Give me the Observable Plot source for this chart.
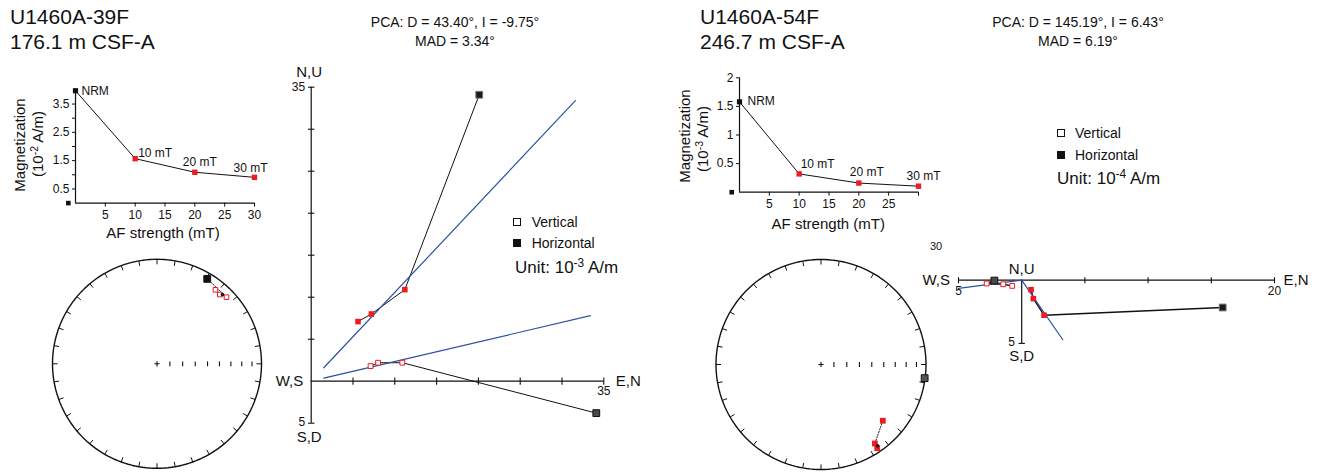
<!DOCTYPE html>
<html><head><meta charset="utf-8">
<script src="https://cdn.jsdelivr.net/npm/d3@7"></script>
<script src="https://cdn.jsdelivr.net/npm/@observablehq/plot@0.6"></script>
<style>
body{margin:0;background:#fff;}
#root{position:relative;width:1317px;height:472px;overflow:hidden;background:#fff;font-family:"Liberation Sans",Arial,Helvetica,sans-serif;color:#111;}
#root svg{position:absolute;left:0;top:0;background:transparent !important;}
.t{position:absolute;white-space:nowrap;line-height:1;}
.sup{font-size:0.7em;position:relative;top:-0.5em;}
.sq{display:inline-block;box-sizing:border-box;width:8px;height:8px;border:1px solid #111;position:absolute;}
</style></head><body><div id="root"></div>
<script>
// ---------------- data ----------------
const steps = ["NRM", "10 mT", "20 mT", "30 mT"];
const afField = [0, 10, 20, 30];
const afTicks = [5, 10, 15, 20, 25, 30];
const stereoIncTicks = [10, 20, 30, 40, 50, 60, 70, 80];

// sample 1
const s1Name = "U1460A-39F", s1Depth = "176.1 m CSF-A";
const s1Pca = {dec: 43.40, inc: -9.75, mad: 3.34};
const s1Int = [3.97, 1.57, 1.09, 0.91];          // 10^-2 A/m
const s1IntTicks = [0.5, 1, 1.5, 2, 2.5, 3, 3.5];
const s1Dec = [30.6, 46.2, 42.2, 38.3];
const s1Inc = [6.2, -8.7, -11.5, -10.7];
const s1E = [20.1, 11.2, 7.2, 5.6];              // 10^-3 A/m
const s1N = [34.1, 10.9, 8.0, 7.1];
const s1U = [-3.8, 2.2, 2.2, 1.8];
const s1FitH = [[1.5, 1.6], [31.6, 33.4]];
const s1FitV = [[1.5, 0.36], [33.4, 7.8]];
const s1ZTicksX = [5, 10, 15, 20, 25, 30, 35];
const s1ZTicksY = [-5, 5, 10, 15, 20, 25, 30, 35];

// sample 2
const s2Name = "U1460A-54F", s2Depth = "246.7 m CSF-A";
const s2Pca = {dec: 145.19, inc: 6.43, mad: 6.19};
const s2Int = [1.58, 0.32, 0.16, 0.105];         // 10^-3 A/m
const s2IntTicks = [0.5, 1, 1.5, 2];
const s2Dec = [97.5, 146.1, 145.7, 132.3];
const s2Inc = [0.5, 4.5, 9.8, 21.5];
const s2E = [15.9, 1.77, 0.92, 0.74];            // 10^-4 A/m
const s2N = [-2.16, -2.77, -1.46, -0.75];
const s2U = [-0.03, -0.26, -0.32, -0.45];
const s2FitH = [[0, 0], [3.25, -4.71]];
const s2FitV = [[-5, -0.65], [0, 0]];
const s2ZTicksX = [-5, 5, 10, 15, 20];
const s2ZTicksY = [-5];

// ---------------- helpers ----------------
const W = 1317, H = 472;
const RED = "#ec1c24", BLUE = "#2b51a3", INK = "#111";
const rad = Math.PI / 180;
const STYLE = 'background: transparent; font-family: "Liberation Sans", Arial, Helvetica, sans-serif; font-size: 12px; color: #111; overflow: visible;';
const root = document.getElementById("root");

const rOf = size => Math.sqrt(size / Math.PI);
const sq = {draw(c, s) { const r = rOf(s); c.rect(-r, -r, 2 * r, 2 * r); }};
const vtick = {draw(c, s) { const r = rOf(s); c.moveTo(0, -r); c.lineTo(0, r); }};
const htick = {draw(c, s) { const r = rOf(s); c.moveTo(-r, 0); c.lineTo(r, 0); }};
const plus = {draw(c, s) { const r = rOf(s); c.moveTo(-r, 0); c.lineTo(r, 0); c.moveTo(0, -r); c.lineTo(0, r); }};

const eqArea = inc => Math.SQRT2 * Math.sin((90 - Math.abs(inc)) / 2 * rad);
const proj = (dec, inc) => { const r = eqArea(inc); return [r * Math.sin(dec * rad), r * Math.cos(dec * rad)]; };

function layer(px, py, xdom, ydom, marks, implicitAxes = false) {
  // px = [left pixel, right pixel], py = [bottom pixel, top pixel]
  const ax = implicitAxes ? {} : {axis: null};
  const svg = Plot.plot({
    width: W, height: H,
    marginLeft: px[0], marginRight: W - px[1], marginTop: py[1], marginBottom: H - py[0],
    x: {domain: xdom, ...ax}, y: {domain: ydom, ...ax},
    style: STYLE,
    marks
  });
  root.appendChild(svg);
}

function txt(html, x, y, size, anchor = "start", rotate = 0) {
  const el = document.createElement("div");
  el.className = "t";
  el.innerHTML = html;
  el.style.left = x + "px"; el.style.top = y + "px"; el.style.fontSize = size + "px";
  const tx = anchor === "middle" ? "-50%" : anchor === "end" ? "-100%" : "0";
  el.style.transform = `translate(${tx},-50%)` + (rotate ? ` rotate(${rotate}deg)` : "");
  root.appendChild(el);
}
function legendSquare(x, y, filled) {
  const el = document.createElement("div");
  el.className = "sq";
  el.style.left = (x - 4) + "px"; el.style.top = (y - 4) + "px";
  el.style.background = filled ? "#111" : "#fff";
  root.appendChild(el);
}

// ---------------- intensity decay plots ----------------
function intensity(p) {
  const d = afField.map((x, i) => ({x, y: p.int[i], label: steps[i], i}));
  const labelMarks = d.map((row, i) => Plot.text([row], {
    x: "x", y: "y", text: "label", dx: p.lab[i][0], dy: p.lab[i][1], textAnchor: p.lab[i][2], fontSize: 12, fill: INK
  }));
  layer(p.px, p.py, [0, 30], [0, p.ymax], [
    Plot.ruleX([0], {y1: 0, y2: p.ymax, stroke: INK, strokeWidth: 1.2}),
    Plot.ruleY([0], {x1: 0, x2: 30, stroke: INK, strokeWidth: 1.2}),
    Plot.axisX({ticks: afTicks, tickSize: 4, tickPadding: 3, label: null, fontSize: 12, tickFormat: p.xfmt}),
    Plot.axisY({ticks: p.yticks, tickSize: 3, tickPadding: 3, label: null, fontSize: 12, tickFormat: p.yfmt}),
    Plot.line(d, {x: "x", y: "y", stroke: INK, strokeWidth: 1}),
    Plot.dot(d.filter(r => r.i === 0), {x: "x", y: "y", symbol: sq, r: 2.6, fill: INK}),
    Plot.dot(d.filter(r => r.i > 0), {x: "x", y: "y", symbol: sq, r: 2.7, fill: RED}),
    Plot.dot([p.corner], {x: d => d[0], y: d => d[1], symbol: sq, r: 2.3, fill: INK}),
    ...labelMarks
  ], true);
}

// ---------------- equal-area stereonets ----------------
function stereo(p) {
  const pts = p.dec.map((dec, i) => { const [x, y] = proj(dec, p.inc[i]); return {x, y, i, down: p.inc[i] >= 0}; });
  const circle = d3.range(0, 361, 2).map(a => ({x: Math.sin(a * rad), y: Math.cos(a * rad)}));
  const ring = d3.range(0, 360, 10);
  const [pcx, pcy] = proj(p.pca.dec, p.pca.inc);
  layer(p.px, p.py, [-1, 1], [-1, 1], [
    Plot.line(circle, {x: "x", y: "y", stroke: INK, strokeWidth: 1.4}),
    Plot.link(ring, {x1: a => Math.sin(a * rad), y1: a => Math.cos(a * rad),
      x2: a => 0.952 * Math.sin(a * rad), y2: a => 0.952 * Math.cos(a * rad), stroke: INK, strokeWidth: 1}),
    Plot.dot(stereoIncTicks, {x: i => eqArea(i), y: 0, symbol: vtick, r: 2.4, stroke: INK, strokeWidth: 1.1}),
    Plot.dot([0], {x: 0, y: 0, symbol: plus, r: 2.6, stroke: INK, strokeWidth: 1.1}),
    Plot.line(pts.filter(d => d.i >= p.connectFrom), {x: "x", y: "y", stroke: INK, strokeWidth: 1, strokeDasharray: "1.2,1.6"}),
    Plot.dot(pts.filter(d => d.i === 0), {x: "x", y: "y", symbol: sq, r: 3.4, fill: p.nrmFill, stroke: INK, strokeWidth: 1}),
    Plot.dot(pts.filter(d => d.i > 0 && d.down), {x: "x", y: "y", symbol: sq, r: 2.9, fill: RED}),
    Plot.dot(pts.filter(d => d.i > 0 && !d.down), {x: "x", y: "y", symbol: sq, r: 2.3, fill: "white", stroke: RED, strokeWidth: 1}),
    Plot.dot([[pcx, pcy]], {x: d => d[0], y: d => d[1], r: 1.8, fill: INK})
  ]);
}

// ---------------- Zijderveld diagrams ----------------
function zij(p) {
  const hor = p.E.map((e, i) => ({x: e, y: p.N[i], i}));
  const ver = p.N.map((n, i) => ({x: n, y: p.U[i], i}));
  const T = (s, x, y, o) => Plot.text([s], {x, y, text: d => d, fill: INK, ...o});
  layer(p.px, p.py, p.xdom, p.ydom, [
    Plot.ruleY([0], {x1: p.xdom[0], x2: p.xdom[1], stroke: INK, strokeWidth: 1.2}),
    Plot.ruleX([0], {y1: p.ydom[0], y2: p.ydom[1], stroke: INK, strokeWidth: 1.2}),
    Plot.dot(p.ticksX, {x: d => d, y: 0, symbol: vtick, r: p.tick, stroke: INK, strokeWidth: 1.1}),
    Plot.dot(p.ticksY, {x: 0, y: d => d, symbol: htick, r: 3.2, stroke: INK, strokeWidth: 1.1}),
    Plot.line(hor, {x: "x", y: "y", stroke: INK, strokeWidth: p.lw}),
    Plot.line(ver, {x: "x", y: "y", stroke: INK, strokeWidth: p.lw}),
    Plot.line(p.fitH, {x: d => d[0], y: d => d[1], stroke: BLUE, strokeWidth: 1.2}),
    Plot.line(p.fitV, {x: d => d[0], y: d => d[1], stroke: BLUE, strokeWidth: 1.2}),
    Plot.dot(hor.filter(d => d.i === 0), {x: "x", y: "y", symbol: sq, r: 3.4, fill: "#1a1a1a", stroke: "#777", strokeWidth: 1}),
    Plot.dot(ver.filter(d => d.i === 0), {x: "x", y: "y", symbol: sq, r: 3.4, fill: "#4a4a4a", stroke: "#111", strokeWidth: 1}),
    Plot.dot(hor.filter(d => d.i > 0), {x: "x", y: "y", symbol: sq, r: 2.8, fill: RED}),
    Plot.dot(ver.filter(d => d.i > 0), {x: "x", y: "y", symbol: sq, r: 2.4, fill: "white", stroke: RED, strokeWidth: 1}),
    ...p.labels.map(([s, x, y, o]) => T(s, x, y, o))
  ]);
}

// ---------------- panel 1 ----------------
intensity({
  int: s1Int, ymax: 4, yticks: s1IntTicks, px: [75, 254], py: [202.6, 89.4],
  yfmt: d => (Math.round(d * 2) % 2 === 1 ? d : ""), xfmt: d => d,
  corner: [-1.2, 0],
  lab: [[6, 0, "start"], [3, -5.5, "start"], [5, -10, "middle"], [-4, -9.5, "middle"]]
});
stereo({dec: s1Dec, inc: s1Inc, pca: s1Pca, px: [52, 261], py: [467.8, 258.8], nrmFill: "#111", connectFrom: 0});
zij({
  E: s1E, N: s1N, U: s1U, fitH: s1FitH, fitV: s1FitV, xdom: [0, 35], ydom: [-5, 35],
  px: [310.7, 603.3], py: [422.7, 86.7], ticksX: s1ZTicksX, ticksY: s1ZTicksY, tick: 3.6, lw: 1,
  labels: [
    ["N,U", 0, 35, {dy: -15, dx: -2, fontSize: 15}],
    ["35", 0, 35, {dx: -6, textAnchor: "end", fontSize: 12}],
    ["W,S", 0, 0, {dx: -8, textAnchor: "end", fontSize: 15}],
    ["E,N", 35, 0, {dx: 12, textAnchor: "start", fontSize: 15}],
    ["35", 35, 0, {dy: 10, fontSize: 12}],
    ["5", 0, -5, {dx: -6, dy: -1, textAnchor: "end", fontSize: 12}],
    ["S,D", 0, -5, {dy: 14, dx: -2, fontSize: 15}]
  ]
});
txt(s1Name, 10, 16, 21);
txt(s1Depth, 10, 41, 21);
txt(`PCA: D = ${s1Pca.dec.toFixed(2)}°, I = ${s1Pca.inc.toFixed(2)}°`, 455, 22, 14, "middle");
txt(`MAD = ${s1Pca.mad.toFixed(2)}°`, 455, 41, 14, "middle");
txt("Magnetization", 18.5, 145, 15, "middle", -90);
txt('(10<span class="sup">-2</span> A/m)', 37, 143.5, 15, "middle", -90);
txt("AF strength (mT)", 163, 231.7, 15, "middle");
legendSquare(516.7, 221.7, false); txt("Vertical", 531.7, 221.7, 14);
legendSquare(516.7, 243.3, true); txt("Horizontal", 531.7, 243.3, 14);
txt('Unit: 10<span class="sup">-3</span> A/m', 515, 266.7, 17);

// ---------------- panel 2 ----------------
intensity({
  int: s2Int, ymax: 2, yticks: s2IntTicks, px: [739, 918], py: [191.7, 77.3],
  yfmt: d => d, xfmt: d => (d === 30 ? "" : d),
  corner: [-1.3, 0],
  lab: [[8, -1, "start"], [1.5, -9.5, "start"], [8, -11, "middle"], [5, -10, "middle"]]
});
stereo({dec: s2Dec, inc: s2Inc, pca: s2Pca, px: [715.5, 925.5], py: [469, 259], nrmFill: "#555", connectFrom: 1});
zij({
  E: s2E, N: s2N, U: s2U, fitH: s2FitH, fitV: s2FitV, xdom: [-5, 20], ydom: [-5, 0],
  px: [958, 1274], py: [342.9, 279.7], ticksX: s2ZTicksX, ticksY: s2ZTicksY, tick: 3, lw: 1.4,
  labels: [
    ["N,U", 0, 0, {dy: -11.5, fontSize: 15}],
    ["W,S", -5, 0, {dx: -8.5, textAnchor: "end", fontSize: 15}],
    ["5", -5, 0, {dy: 11, fontSize: 12}],
    ["20", 20, 0, {dy: 11, fontSize: 12}],
    ["E,N", 20, 0, {dx: 9, textAnchor: "start", fontSize: 15}],
    ["5", 0, -5, {dx: -10, dy: -1, fontSize: 12}],
    ["S,D", 0, -5, {dy: 13, fontSize: 15}]
  ]
});
txt(s2Name, 700, 16, 21);
txt(s2Depth, 700, 41, 21);
txt(`PCA: D = ${s2Pca.dec.toFixed(2)}°, I = ${s2Pca.inc.toFixed(2)}°`, 1078, 22, 14, "middle");
txt(`MAD = ${s2Pca.mad.toFixed(2)}°`, 1078, 41, 14, "middle");
txt("Magnetization", 684, 136, 15, "middle", -90);
txt('(10<span class="sup">-3</span> A/m)', 702, 139, 15, "middle", -90);
txt("AF strength (mT)", 828.3, 222.7, 15, "middle");
txt("30", 936, 245.7, 11, "middle");
legendSquare(1061, 133.3, false); txt("Vertical", 1075, 133.3, 14);
legendSquare(1061, 155.3, true); txt("Horizontal", 1075, 155.3, 14);
txt('Unit: 10<span class="sup">-4</span> A/m', 1057, 178, 17);
</script></body></html>
